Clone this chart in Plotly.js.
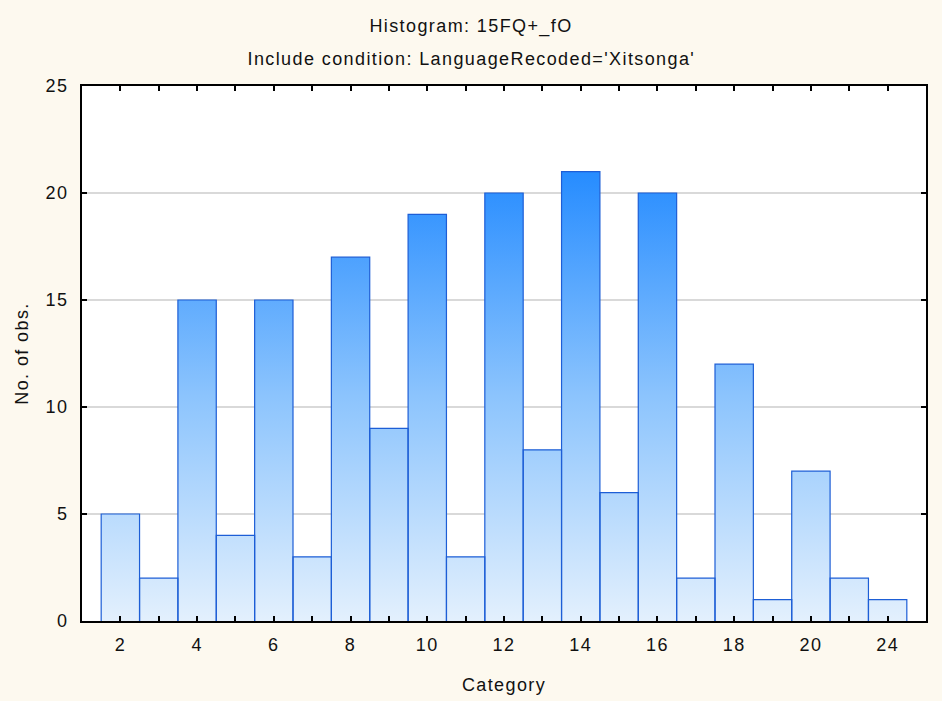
<!DOCTYPE html>
<html>
<head>
<meta charset="utf-8">
<script src="https://cdn.plot.ly/plotly-3.0.1.min.js"></script>
<style>
html,body{margin:0;padding:0;background:#fdf9ef;}
#chart text{letter-spacing:1.4px;}
</style>
</head>
<body>
<div id="chart" style="width:942px;height:701px;"></div>
<script>
const categories = ['2','3','4','5','6','7','8','9','10','11','12','13','14','15','16','17','18','19','20','22','24'];
const counts = [5,2,15,4,15,3,17,9,19,3,20,8,21,6,20,2,12,1,7,2,1];
const yTicks = [0,5,10,15,20,25];
const titleText = 'Histogram: 15FQ+_fO';
const subtitleText = "Include condition: LanguageRecoded='Xitsonga'";
const xTitle = 'Category';
const yTitle = 'No. of obs.';

const idx = categories.map((c, i) => i);
const tickText = categories.map((c, i) => (i % 2 === 0 ? c : ''));

// step outline for gradient fill, derived from the counts
const sx = [], sy = [];
counts.forEach((v, i) => { sx.push(i - 0.5, i + 0.5); sy.push(v, v); });
const maxCount = Math.max(...counts);

// rectangle outlines for each bar, derived from the counts
const ox = [], oy = [];
counts.forEach((v, i) => {
  ox.push(i - 0.5, i - 0.5, i + 0.5, i + 0.5, null);
  oy.push(0, v, v, 0, null);
});

const FONT = 'Liberation Sans, Arial, sans-serif';
const FS = 18;

const traces = [
  {
    type: 'scatter', x: sx, y: sy, mode: 'lines', line: {width: 0, color: 'rgba(0,0,0,0)'},
    fill: 'tozeroy',
    fillgradient: {type: 'vertical', start: 0, stop: maxCount,
      colorscale: [[0, '#e3f0fd'], [0.5, '#8cc4fd'], [1, '#268cff']]},
    hoverinfo: 'skip', showlegend: false
  },
  {
    type: 'scatter', x: ox, y: oy, mode: 'lines', connectgaps: false,
    line: {color: '#1d5ed6', width: 1.2},
    hoverinfo: 'skip', showlegend: false
  }
];

const layout = {
  width: 942, height: 701,
  paper_bgcolor: '#fdf9ef', plot_bgcolor: '#ffffff',
  margin: {l: 82, r: 16, t: 86, b: 80},
  font: {family: FONT, size: FS, color: '#111111'},
  title: {text: titleText, font: {family: FONT, size: FS, color: '#111111'},
          x: 0.5, xanchor: 'center', xref: 'container', y: 1 - 26 / 701, yanchor: 'middle', yref: 'container'},
  annotations: [{
    text: subtitleText, xref: 'paper', yref: 'paper', x: (471 - 82) / 844, y: 1 + 27 / 535,
    xanchor: 'center', yanchor: 'middle', showarrow: false,
    font: {family: FONT, size: FS, color: '#111111'}
  }],
  xaxis: {
    range: [-1, categories.length], tickmode: 'array', tickvals: idx, ticktext: tickText,
    ticks: 'inside', ticklen: 5, tickwidth: 2, tickcolor: '#000',
    showline: true, linecolor: '#000', linewidth: 2, mirror: 'ticks',
    showgrid: false, zeroline: false, ticklabelstandoff: 6,
    tickfont: {family: FONT, size: FS, color: '#111'},
    title: {text: xTitle, standoff: 25, font: {family: FONT, size: FS, color: '#111'}},
    automargin: false, fixedrange: true
  },
  yaxis: {
    range: [0, 25], tickmode: 'array', tickvals: yTicks,
    ticks: 'inside', ticklen: 5, tickwidth: 2, tickcolor: '#000',
    showline: true, linecolor: '#000', linewidth: 2, mirror: 'ticks',
    showgrid: true, gridcolor: '#d9d9d9', gridwidth: 2, zeroline: false,
    ticklabelstandoff: 8,
    tickfont: {family: FONT, size: FS, color: '#111'},
    title: {text: yTitle, standoff: 15, font: {family: FONT, size: FS, color: '#111'}},
    automargin: false, fixedrange: true
  }
};

Plotly.newPlot('chart', traces, layout, {displayModeBar: false, staticPlot: true});
</script>
</body>
</html>
